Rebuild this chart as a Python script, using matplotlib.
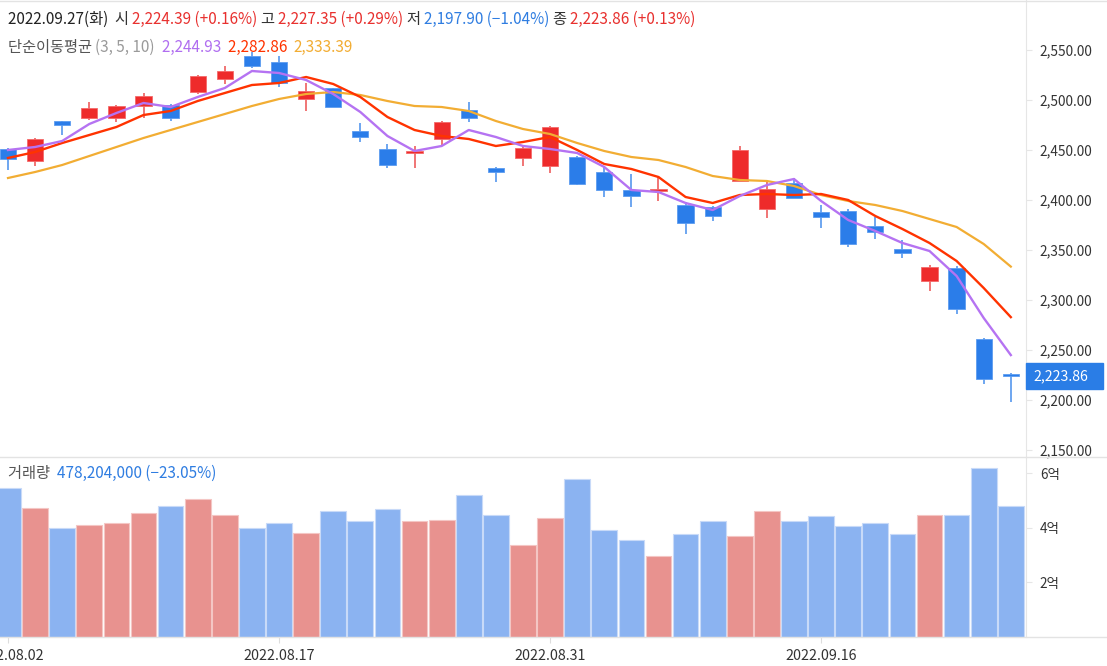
import numpy as np
import matplotlib
matplotlib.use('Agg')
import matplotlib.pyplot as plt
import matplotlib.transforms as mtransforms
from matplotlib.patches import Rectangle
from matplotlib.lines import Line2D
from matplotlib.ticker import FuncFormatter

plt.rcParams['font.family'] = ['Noto Sans CJK KR', 'DejaVu Sans']

# 거래일 (2022.08.02 ~ 2022.09.27)
dates = ['2022.08.02', '2022.08.03', '2022.08.04', '2022.08.05', '2022.08.08', '2022.08.09',
         '2022.08.10', '2022.08.11', '2022.08.12', '2022.08.16', '2022.08.17', '2022.08.18',
         '2022.08.19', '2022.08.22', '2022.08.23', '2022.08.24', '2022.08.25', '2022.08.26',
         '2022.08.29', '2022.08.30', '2022.08.31', '2022.09.01', '2022.09.02', '2022.09.05',
         '2022.09.06', '2022.09.07', '2022.09.08', '2022.09.13', '2022.09.14', '2022.09.15',
         '2022.09.16', '2022.09.19', '2022.09.20', '2022.09.21', '2022.09.22', '2022.09.23',
         '2022.09.26', '2022.09.27']

opens = [2451, 2439, 2479, 2482, 2482, 2494, 2495, 2508, 2521, 2544, 2538, 2501, 2512, 2469,
         2451, 2447, 2461, 2490, 2432, 2442, 2434, 2443, 2428, 2410, 2409, 2395, 2393, 2419,
         2391, 2417, 2388, 2389, 2374, 2351, 2319, 2332, 2261, 2224.39]
highs = [2452, 2462, 2479, 2498, 2495, 2507, 2496, 2525, 2534, 2548, 2544, 2517, 2512, 2477,
         2456, 2454, 2479, 2498, 2433, 2455, 2474, 2444, 2433, 2426, 2423, 2398, 2394, 2454,
         2419, 2422, 2395, 2391, 2383, 2360, 2335, 2334, 2262, 2227.35]
lows = [2430, 2434, 2465, 2480, 2478, 2482, 2479, 2506, 2516, 2532, 2513, 2489, 2493, 2458,
        2432, 2432, 2455, 2478, 2418, 2434, 2427, 2415, 2403, 2393, 2399, 2366, 2379, 2419,
        2382, 2402, 2372, 2353, 2361, 2342, 2309, 2286, 2216, 2197.90]
closes = [2441, 2461, 2475, 2492, 2494, 2504, 2482, 2524, 2529, 2534, 2517, 2509, 2493, 2463,
          2435, 2449, 2478, 2482, 2428, 2452, 2473, 2416, 2410, 2404, 2410, 2377, 2384, 2450,
          2411, 2402, 2383, 2356, 2368, 2347, 2333, 2291, 2221, 2223.86]

# 단순이동평균 (3, 5, 10)
ma3 = [2450, 2453, 2459, 2476, 2487, 2497, 2493, 2503, 2512, 2529, 2527, 2520, 2506, 2488,
       2464, 2449, 2454, 2470, 2463, 2454, 2451, 2447, 2433, 2410, 2408, 2397, 2390, 2404,
       2415, 2421, 2399, 2380, 2369, 2357, 2349, 2324, 2282, 2244.93]
ma5 = [2442, 2448, 2457, 2465, 2473, 2485, 2489, 2499, 2507, 2515, 2517, 2523, 2516, 2503,
       2483, 2470, 2464, 2461, 2454, 2458, 2463, 2450, 2436, 2431, 2423, 2403, 2397, 2405,
       2406, 2405, 2406, 2400, 2384, 2371, 2357, 2339, 2312, 2282.86]
ma10 = [2422, 2428, 2435, 2444, 2453, 2462, 2470, 2478, 2486, 2494, 2501, 2506, 2508, 2505,
        2499, 2494, 2493, 2489, 2479, 2471, 2466, 2457, 2449, 2443, 2440, 2433, 2424, 2420,
        2419, 2414, 2405, 2399, 2395, 2389, 2381, 2373, 2356, 2333.39]

# 거래량 (백만주)
volumes = [547, 474, 400, 410, 418, 455, 479, 507, 447, 400, 418, 382, 460, 424, 470, 424,
           428, 520, 447, 336, 437, 579, 390, 355, 296, 377, 424, 368, 460, 424, 442, 405,
           418, 377, 447, 447, 621, 478.204]

date_ticks = [0, 10, 20, 30]
price_ticks = [2150, 2200, 2250, 2300, 2350, 2400, 2450, 2500, 2550]
vol_ticks = [2, 4, 6]

RED = '#EE2B2B'
BLUE = '#2B7DE9'

W, H = 1107, 666
fig = plt.figure(figsize=(W / 100, H / 100), dpi=100)
ax = fig.add_axes([0, 1 - 456 / H, 1026 / W, 456 / H])
axv = fig.add_axes([0, 1 - 636.5 / H, 1026 / W, (636.5 - 457) / H], sharex=ax)

x = np.arange(len(dates))
o = np.array(opens)
c = np.array(closes)
up = c > o
col = np.where(up, RED, BLUE)
wick = np.where(up, '#F07575', '#6EA6F0')

# 캔들
ax.vlines(x, lows, highs, colors=wick, linewidth=1.4, zorder=2)
ax.bar(x, np.maximum(np.abs(c - o), 1.8), bottom=np.minimum(o, c), width=0.6,
       color=col, edgecolor=np.where(up, '#F46A6A', '#5C9CF0'), linewidth=0.6, zorder=3)

# 이동평균선
ax.plot(x, ma10, color='#F2AD33', lw=1.6, zorder=4)
ax.plot(x, ma5, color='#FF3300', lw=1.7, zorder=4)
ax.plot(x, ma3, color='#B573F2', lw=1.7, zorder=4)

ax.set_xlim(-0.295, 37.56)
ax.set_ylim(2144, 2600)
ax.yaxis.tick_right()
ax.set_yticks(price_ticks)
ax.yaxis.set_major_formatter(FuncFormatter(lambda v, p: f'{v:,.2f}'))
ax.tick_params(axis='y', length=4, color='#e6e6e6', labelcolor='#333333', labelsize=9.8, pad=6)
ax.tick_params(axis='x', bottom=False, labelbottom=False)
for s in ['top', 'left', 'bottom']:
    ax.spines[s].set_visible(False)
ax.spines['right'].set_color('#e6e6e6')

# 현재가 표시
trans = mtransforms.blended_transform_factory(ax.transAxes, ax.transData)
ax.add_patch(Rectangle((1.0, closes[-1] - 13), 77 / 1026, 26, transform=trans,
                       color='#2A7DE6', clip_on=False, zorder=5))
ax.text(1.0 + 7 / 1026, closes[-1], f'{closes[-1]:,.2f}', transform=trans, color='white',
        va='center', ha='left', fontsize=10.2, clip_on=False, zorder=6)

# 거래량
vcol = np.where(up, '#E8928F', '#8BB3F1')
vedge = np.where(up, '#F4C6C4', '#C8DAF8')
axv.bar(x, np.array(volumes) * 1e6, width=0.95, color=vcol, edgecolor=vedge, linewidth=0.8)
axv.set_ylim(0, 6.6e8)
axv.yaxis.tick_right()
axv.set_yticks([v * 1e8 for v in vol_ticks])
axv.set_yticklabels([f'{v}억' for v in vol_ticks])
axv.tick_params(axis='y', length=4, color='#e6e6e6', labelcolor='#333333', labelsize=9.8, pad=6)
axv.set_xticks(date_ticks)
axv.set_xticklabels([dates[i] for i in date_ticks])
axv.tick_params(axis='x', length=4, color='#dddddd', labelcolor='#333333', labelsize=10.3, pad=5)
for s in ['top', 'left', 'bottom']:
    axv.spines[s].set_visible(False)
axv.spines['right'].set_color('#e6e6e6')

for yy in [1, 456.5, 636.5]:
    fig.add_artist(Line2D([0, 1], [1 - yy / H, 1 - yy / H], transform=fig.transFigure,
                          color='#e3e3e3', lw=1))

# 상단 정보 텍스트
renderer = fig.canvas.get_renderer()


def text_row(x_px, y_px, pieces, size=11):
    xp = x_px
    for s, color in pieces:
        t = fig.text(xp / W, 1 - y_px / H, s, color=color, fontsize=size, va='baseline', ha='left')
        xp = t.get_window_extent(renderer).x1


GRAY = '#333333'
R2 = '#E8312F'
B2 = '#2F7DE1'
text_row(8, 24, [('2022.09.27(화)  ', '#222222'), ('시 ', GRAY), ('2,224.39 (+0.16%) ', R2),
                 ('고 ', GRAY), ('2,227.35 (+0.29%) ', R2), ('저 ', GRAY),
                 ('2,197.90 (−1.04%) ', B2), ('종 ', GRAY), ('2,223.86 (+0.13%)', R2)])
text_row(8, 52, [('단순이동평균 ', '#555555'), ('(3, 5, 10)  ', '#9a9a9a'),
                 (f'{ma3[-1]:,.2f}  ', '#B06EF0'), (f'{ma5[-1]:,.2f}  ', '#FF3300'),
                 (f'{ma10[-1]:,.2f}', '#F2AD33')])
text_row(8, 478, [('거래량  ', '#555555'), ('478,204,000 (−23.05%)', B2)])

fig.savefig('out.png', dpi=100)
